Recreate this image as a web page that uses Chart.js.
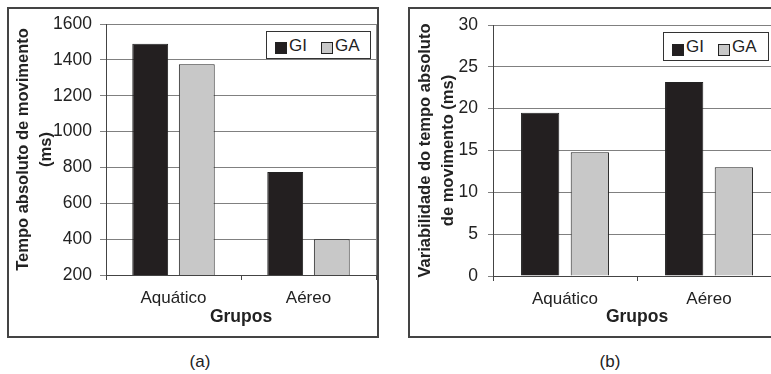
<!DOCTYPE html>
<html>
<head>
<meta charset="utf-8">
<script src="https://cdn.jsdelivr.net/npm/chart.js@4.4.1/dist/chart.umd.min.js"></script>
<style>
  html, body { margin: 0; padding: 0; background: #fff; }
  body {
    width: 771px; height: 374px; position: relative; overflow: hidden;
    font-family: "Liberation Sans", Arial, sans-serif; color: #222;
  }
  canvas { position: absolute; top: 0; }
  .frame { position: absolute; border: 2px solid #444; box-sizing: border-box; pointer-events: none; }
  .legend {
    position: absolute; box-sizing: border-box; background: #fff;
    border: 1px solid #333; display: flex; align-items: center;
    padding-left: 8px; font-size: 17px; line-height: 17px;
  }
  .legend .item { display: flex; align-items: center; margin-right: 14px; }
  .legend .item i {
    display: inline-block; width: 12px; height: 12px; box-sizing: border-box;
    border: 1px solid #222; margin-right: 2px; position: relative; top: 3px;
  }
  .caption { position: absolute; font-size: 17px; transform: translateX(-50%); }
</style>
</head>
<body>
<canvas id="chartA" width="380" height="340" style="left:0px;width:380px;height:340px"></canvas>
<canvas id="chartB" width="400" height="340" style="left:400px;width:400px;height:340px"></canvas>
<div class="frame" style="left:7px;top:7px;width:372px;height:331px"></div>
<div class="frame" style="left:408px;top:7px;width:400px;height:331px"></div>
<div class="legend" id="legendA" style="left:266px;top:31px;width:105px;height:28px"></div>
<div class="legend" id="legendB" style="left:663px;top:32px;width:106px;height:29px"></div>
<div class="caption" style="left:200px;top:352px">(a)</div>
<div class="caption" style="left:610px;top:352px">(b)</div>

<script>
const categories = ['Aquático', 'Aéreo'];
const seriesLabels = ['GI', 'GA'];
const seriesColors = ['#231f20', '#c8c8c8'];

// (a) tempo absoluto de movimento (ms)
const tempoGI = [1490, 775];
const tempoGA = [1375, 400];
const tempoTicks = [200, 1600, 200]; // min, max, step

// (b) variabilidade do tempo absoluto (ms)
const variabGI = [19.5, 23.2];
const variabGA = [14.8, 13.0];
const variabTicks = [0, 30, 5];

const FONT = '"Liberation Sans", Arial, sans-serif';
const INK = '#222';

// thin line on the right edge of the plot area
const plotEdge = {
  id: 'plotEdge',
  afterDraw(chart) {
    const { ctx, chartArea: a } = chart;
    ctx.save();
    ctx.strokeStyle = '#888';
    ctx.lineWidth = 1;
    ctx.beginPath();
    ctx.moveTo(a.right + 0.5, a.top);
    ctx.lineTo(a.right + 0.5, a.bottom);
    ctx.stroke();
    ctx.restore();
  },
};

function buildLegend(box, datasets) {
  datasets.forEach(ds => {
    const item = document.createElement('span');
    item.className = 'item';
    const sw = document.createElement('i');
    sw.style.background = ds.backgroundColor;
    item.append(sw, document.createTextNode(ds.label));
    box.appendChild(item);
  });
}

function createBarChart({ canvas, legend, yTitle, values, ticks, yWidth, xHeight, padding, tickLen, tickPad, titlePad }) {
  const datasets = values.map((v, i) => ({
    label: seriesLabels[i],
    data: v,
    backgroundColor: seriesColors[i],
    borderColor: INK,
    borderWidth: 1,
    categoryPercentage: 0.69,
    barPercentage: 0.77,
  }));
  buildLegend(legend, datasets);

  return new Chart(canvas.getContext('2d'), {
    type: 'bar',
    data: { labels: categories, datasets },
    plugins: [plotEdge],
    options: {
      responsive: false,
      animation: false,
      layout: { padding },
      plugins: { legend: { display: false }, tooltip: { enabled: false } },
      scales: {
        x: {
          grid: { drawOnChartArea: false, tickLength: 5, color: '#444' },
          border: { color: '#444', width: 1 },
          ticks: { color: INK, padding: 8, font: { family: FONT, size: 17 } },
          title: {
            display: true, text: 'Grupos', color: INK,
            font: { family: FONT, size: 17.5, weight: 'bold', lineHeight: 1.2 },
            padding: { top: 0, bottom: 12 },
          },
          afterFit: s => { s.height = xHeight; },
        },
        y: {
          min: ticks[0], max: ticks[1],
          grid: { color: '#808080', tickLength: tickLen },
          border: { color: '#444', width: 1 },
          ticks: {
            stepSize: ticks[2], color: INK, padding: tickPad,
            font: { family: FONT, size: 17.5 },
            callback: v => String(v),
          },
          title: {
            display: true, text: yTitle, color: INK,
            font: { family: FONT, size: 16.5, weight: 'bold', lineHeight: 1.4 },
            padding: { top: titlePad, bottom: 0 },
          },
          afterFit: s => { s.width = yWidth; },
        },
      },
    },
  });
}

createBarChart({
  canvas: document.getElementById('chartA'),
  legend: document.getElementById('legendA'),
  yTitle: ['Tempo absoluto de movimento', '(ms)'],
  values: [tempoGI, tempoGA],
  ticks: tempoTicks,
  yWidth: 106, xHeight: 65,
  padding: { top: 24, right: 4, left: 0, bottom: 0 },
  tickLen: 6, tickPad: 8, titlePad: 11.5,
});

createBarChart({
  canvas: document.getElementById('chartB'),
  legend: document.getElementById('legendB'),
  yTitle: ['Variabilidade do tempo absoluto', 'de movimento (ms)'],
  values: [variabGI, variabGA],
  ticks: variabTicks,
  yWidth: 93, xHeight: 64,
  padding: { top: 25, right: 19, left: 0, bottom: 0 },
  tickLen: 5, tickPad: 10, titlePad: 13.5,
});
</script>
</body>
</html>
